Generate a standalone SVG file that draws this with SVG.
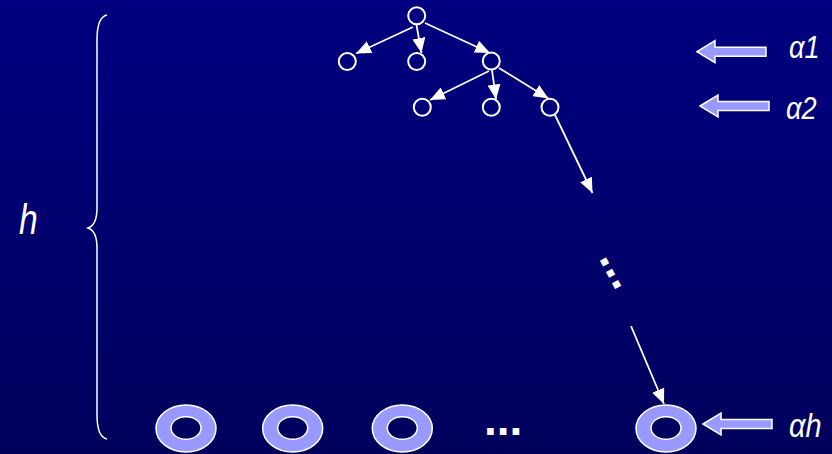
<svg xmlns="http://www.w3.org/2000/svg" width="832" height="454" viewBox="0 0 832 454">
<defs>
<linearGradient id="bg" x1="0" y1="0" x2="0" y2="1">
<stop offset="0" stop-color="#000080"/>
<stop offset="1" stop-color="#00005c"/>
</linearGradient>
<marker id="ah" viewBox="0 0 15 13" refX="15" refY="6.5" markerWidth="15" markerHeight="13" markerUnits="userSpaceOnUse" orient="auto">
<path d="M0,0 L15,6.5 L0,13 Z" fill="#ffffff"/>
</marker>
<path id="barrow" d="M0,0 L18,-11 L18,-4.5 L69,-4.5 L69,4.5 L18,4.5 L18,11 Z"/>
</defs>
<style>
.node{fill:none;stroke:#ffffff;stroke-width:2}
.edge{stroke:#ffffff;stroke-width:1.8;fill:none;marker-end:url(#ah)}
.torus{fill:#9999ff;fill-rule:evenodd;stroke:#ffffff;stroke-width:1.5}
.barrow{fill:#9999ff;stroke:#ffffff;stroke-width:1.5}
.lbl{font-family:"Liberation Sans",Arial,sans-serif;font-style:italic;fill:#ffffff}
.dots{font-family:"Liberation Sans",Arial,sans-serif;font-weight:bold;fill:#ffffff}
</style>
<rect width="832" height="454" fill="url(#bg)"/>

<g id="brace">
<path d="M107,15 Q97,17 97,40 L97,208 Q97,225 88,228 Q97,231 97,248 L97,415 Q97,437 107,439" fill="none" stroke="#ffffff" stroke-width="1.5"/>
</g>
<g id="label-h"><text class="lbl" x="0" y="0" font-size="42" transform="translate(19,234) scale(0.8,1)">h</text></g>

<g id="connectors">
<line class="edge" x1="413" y1="27" x2="356" y2="53.5"/>
<line class="edge" x1="416.5" y1="25" x2="421.5" y2="53"/>
<line class="edge" x1="425" y1="23" x2="490" y2="53"/>
<line class="edge" x1="489" y1="71" x2="430" y2="100"/>
<line class="edge" x1="492" y1="70" x2="496" y2="99.5"/>
<line class="edge" x1="499" y1="68" x2="548.5" y2="98.5"/>
<line class="edge" x1="555" y1="115" x2="592.5" y2="193"/>
<line class="edge" x1="631" y1="326" x2="664" y2="404"/>
</g>

<g id="n-root"><circle class="node" cx="416.7" cy="15.7" r="8.5"/></g>
<g id="n-1a"><circle class="node" cx="347.3" cy="61.5" r="8.5"/></g>
<g id="n-1b"><circle class="node" cx="416.7" cy="61.5" r="8.5"/></g>
<g id="n-1c"><circle class="node" cx="491.3" cy="61" r="8.5"/></g>
<g id="n-2a"><circle class="node" cx="422.3" cy="107.3" r="8.5"/></g>
<g id="n-2b"><circle class="node" cx="491.3" cy="107.3" r="8.5"/></g>
<g id="n-2c"><circle class="node" cx="550" cy="107.3" r="8.5"/></g>

<g id="vdots"><text class="dots" x="0" y="0" font-size="46" transform="translate(598.5,258) rotate(61.7)">...</text></g>

<g id="leaf-1"><path class="torus" d="M156,428.5 a30,23.5 0 1,0 60,0 a30,23.5 0 1,0 -60,0 Z M171,428 a15,11.3 0 1,0 30,0 a15,11.3 0 1,0 -30,0 Z"/></g>
<g id="leaf-2"><path class="torus" d="M262.7,428.5 a30,23.5 0 1,0 60,0 a30,23.5 0 1,0 -60,0 Z M277.7,428 a15,11.3 0 1,0 30,0 a15,11.3 0 1,0 -30,0 Z"/></g>
<g id="leaf-3"><path class="torus" d="M372.3,428.5 a30,23.5 0 1,0 60,0 a30,23.5 0 1,0 -60,0 Z M387.3,428 a15,11.3 0 1,0 30,0 a15,11.3 0 1,0 -30,0 Z"/></g>
<g id="hdots"><text class="dots" x="484" y="435" font-size="46">...</text></g>
<g id="leaf-h"><path class="torus" d="M636,428.5 a30,23.5 0 1,0 60,0 a30,23.5 0 1,0 -60,0 Z M651,428 a15,11.3 0 1,0 30,0 a15,11.3 0 1,0 -30,0 Z"/></g>

<g id="a1">
<use href="#barrow" class="barrow" x="697" y="51.7"/>
<text class="lbl" x="0" y="0" font-size="32" transform="translate(789,58) scale(0.85,1)">α1</text>
</g>
<g id="a2">
<use href="#barrow" class="barrow" x="700" y="106"/>
<text class="lbl" x="0" y="0" font-size="32" transform="translate(786,119) scale(0.85,1)">α2</text>
</g>
<g id="ah-lbl">
<use href="#barrow" class="barrow" x="703" y="424"/>
<text class="lbl" x="0" y="0" font-size="34" transform="translate(789,437) scale(0.85,1)">αh</text>
</g>
</svg>
